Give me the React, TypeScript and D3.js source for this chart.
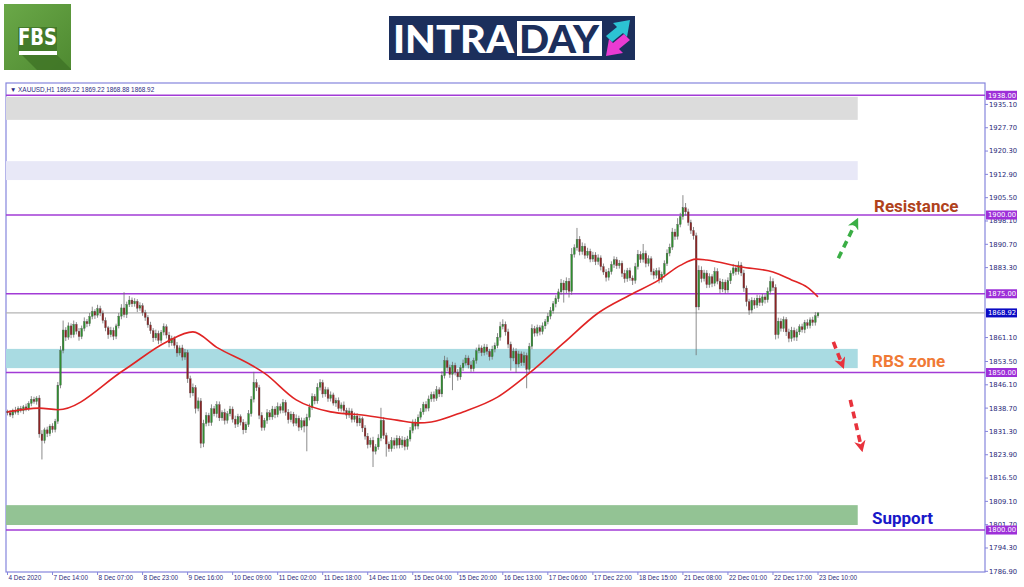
import React from "react";
import * as d3 from "d3";

// hourly XAUUSD bars (open = previous close)
const firstOpen = 1837.6;
const closes = [
  1837.2, 1836.5, 1838.0, 1837.4, 1838.6, 1837.9, 1839.1, 1838.5, 1840.2, 1841.5,
  1840.8, 1841.9, 1830.5, 1828.4, 1831.8, 1830.6, 1833.0, 1831.9, 1834.5, 1846.0,
  1857.0, 1863.5, 1861.2, 1864.8, 1862.0, 1865.3, 1863.1, 1861.4, 1864.0, 1866.2,
  1865.5, 1867.8, 1869.4, 1868.2, 1870.3, 1868.9, 1866.5, 1864.2, 1862.0, 1863.4,
  1861.5, 1864.8, 1867.9, 1870.5, 1868.4, 1871.6, 1873.0, 1871.8, 1872.6, 1870.4,
  1871.2, 1869.0, 1867.5, 1865.1, 1863.3, 1861.0, 1862.4, 1860.2, 1862.8, 1864.5,
  1861.9, 1859.4, 1860.8, 1858.6, 1856.2, 1857.8, 1854.9, 1856.3, 1848.0, 1843.5,
  1845.2, 1838.6, 1841.0, 1827.5, 1833.8, 1836.4, 1834.1, 1838.5, 1836.9, 1839.8,
  1835.6, 1837.3, 1834.8, 1836.9, 1838.4, 1835.2, 1833.6, 1836.0, 1834.2, 1831.8,
  1833.5, 1836.9, 1841.5, 1846.8, 1845.2, 1836.4, 1832.5, 1834.8, 1837.2, 1835.9,
  1838.4, 1836.6, 1839.2, 1838.0, 1840.5, 1837.4, 1835.0, 1836.8, 1833.9, 1835.5,
  1832.6, 1834.7, 1833.0, 1835.8, 1838.9, 1842.4, 1841.0, 1845.3, 1846.8, 1843.2,
  1844.5, 1841.8, 1842.9, 1840.3, 1841.1, 1838.6, 1839.7, 1837.9, 1836.5, 1837.8,
  1835.1, 1836.2, 1834.0, 1835.3, 1832.4, 1829.8, 1827.1, 1828.5, 1825.0, 1826.4,
  1829.2, 1834.8, 1830.0, 1827.3, 1825.8, 1828.4, 1826.9, 1829.1, 1827.0, 1828.6,
  1826.5, 1828.9, 1831.6, 1834.3, 1833.0, 1835.8, 1837.5, 1839.9, 1838.7, 1841.6,
  1843.0, 1841.8, 1844.5, 1843.2, 1849.0, 1853.8, 1851.6, 1849.4, 1852.3, 1850.1,
  1848.6, 1851.5, 1853.0, 1854.6, 1852.4, 1851.2, 1853.8, 1856.9, 1857.8, 1856.3,
  1858.1, 1856.7, 1855.0, 1857.4, 1858.5, 1861.2, 1864.6, 1865.3, 1862.9, 1859.0,
  1854.6, 1856.8, 1852.7, 1855.9, 1853.1, 1855.4, 1851.0, 1858.3, 1863.9, 1862.5,
  1864.2, 1863.0, 1864.8, 1866.1, 1867.9, 1869.6, 1871.8, 1873.4, 1875.6, 1878.4,
  1876.2, 1879.0, 1875.8, 1887.5, 1889.6, 1892.3, 1888.4, 1890.1, 1887.2, 1888.5,
  1886.0, 1887.3, 1885.2, 1886.4, 1883.6, 1881.9, 1880.2, 1882.0, 1884.3, 1885.8,
  1883.9, 1884.7, 1881.5, 1879.8, 1882.3, 1880.0, 1879.2, 1883.6, 1887.5, 1885.9,
  1887.8, 1884.6, 1886.1, 1882.0, 1880.9, 1882.3, 1879.5, 1881.2, 1884.6, 1887.9,
  1889.8, 1894.6, 1893.2, 1897.0, 1899.5, 1902.3, 1901.0, 1897.6, 1895.1, 1893.4,
  1870.8, 1882.5, 1879.8, 1881.6, 1877.9, 1880.4, 1878.3, 1882.1, 1879.0, 1876.5,
  1878.7, 1876.2, 1879.1, 1881.5, 1883.2, 1882.0, 1884.1, 1881.6, 1876.8, 1872.5,
  1869.8, 1872.9, 1871.4, 1873.6, 1872.2, 1874.0, 1873.1, 1875.8, 1878.9, 1877.0,
  1862.0, 1866.3, 1864.0, 1866.8, 1862.9, 1860.8, 1863.4, 1861.2, 1862.9, 1864.5,
  1863.6, 1865.8, 1864.9, 1866.7, 1865.9, 1868.0, 1868.92,
];
// wick lengths above / below the body, in dollars
const upperWick = [
  0.6, 0.9, 0.5, 1.1, 0.7, 0.8, 0.6, 1.0, 0.7, 1.0,
  0.8, 0.6, 0.9, 1.2, 0.7, 1.0, 0.6, 0.9, 0.8, 1.0,
  1.4, 3.0, 0.9, 1.1, 0.8, 1.2, 0.7, 1.0, 0.9, 1.3,
  0.8, 1.1, 1.5, 0.7, 1.2, 0.9, 0.8, 1.0, 0.6, 1.1,
  0.9, 0.7, 1.0, 1.2, 5.0, 0.9, 1.3, 0.8, 1.0, 0.7,
  1.1, 0.8, 0.9, 0.7, 1.0, 0.8, 1.2, 0.9, 0.7, 1.1,
  0.8, 1.0, 0.9, 0.7, 1.1, 0.8, 1.0, 1.2, 0.9, 1.0,
  1.3, 0.8, 1.1, 0.9, 1.2, 1.0, 0.8, 1.4, 0.9, 1.1,
  1.0, 0.7, 1.2, 0.9, 1.0, 0.8, 1.1, 0.9, 0.7, 1.0,
  0.9, 1.2, 1.0, 3.4, 1.1, 0.9, 1.0, 0.8, 1.2, 0.9,
  1.0, 0.8, 1.3, 0.9, 1.1, 0.8, 1.0, 0.9, 0.7, 1.2,
  0.8, 1.0, 0.9, 1.1, 1.2, 1.0, 0.8, 1.3, 1.1, 0.9,
  1.0, 0.8, 1.1, 0.7, 0.9, 1.0, 0.8, 1.1, 0.9, 1.0,
  0.8, 1.1, 0.9, 1.0, 0.7, 0.9, 1.0, 0.8, 1.1, 0.9,
  1.2, 4.0, 1.0, 0.9, 0.8, 1.1, 0.9, 1.0, 0.8, 1.2,
  0.9, 1.0, 1.1, 0.8, 1.0, 0.9, 1.2, 0.8, 1.0, 1.1,
  0.9, 1.0, 1.2, 0.8, 1.4, 1.5, 1.0, 0.9, 1.1, 0.8,
  1.0, 0.9, 1.1, 1.0, 0.8, 1.2, 0.9, 1.0, 1.1, 0.8,
  1.0, 0.9, 0.8, 1.1, 1.0, 1.3, 1.5, 1.6, 0.9, 1.0,
  0.8, 1.1, 0.9, 1.0, 0.8, 1.2, 0.9, 1.1, 1.4, 0.9,
  1.0, 0.8, 1.1, 0.9, 1.0, 1.2, 0.9, 1.1, 1.0, 1.3,
  0.9, 1.2, 1.0, 2.0, 1.1, 3.6, 1.0, 1.2, 0.9, 1.1,
  0.8, 1.0, 0.9, 1.1, 0.8, 1.0, 0.9, 1.2, 1.0, 1.1,
  0.9, 1.0, 0.8, 1.1, 0.9, 1.0, 0.8, 1.2, 1.4, 1.0,
  3.0, 0.9, 1.1, 0.8, 1.0, 0.9, 1.1, 0.8, 1.0, 1.2,
  1.1, 1.3, 1.0, 2.0, 1.2, 4.0, 1.5, 1.0, 0.9, 1.1,
  1.0, 1.5, 1.2, 1.0, 0.9, 1.1, 0.8, 1.3, 1.0, 0.9,
  1.0, 0.8, 1.1, 0.9, 1.2, 1.0, 1.2, 0.9, 1.0, 0.8,
  0.9, 1.0, 0.8, 1.1, 0.9, 1.0, 0.8, 1.2, 1.6, 1.0,
  1.0, 1.1, 0.9, 1.0, 0.8, 1.0, 1.1, 0.9, 1.0, 0.8,
  1.0, 0.9, 1.1, 0.8, 1.0, 1.2, 0.3,
];
const lowerWick = [
  0.8, 0.6, 1.0, 0.7, 0.9, 0.6, 1.1, 0.8, 0.7, 0.9,
  0.7, 1.0, 1.2, 6.0, 0.9, 1.1, 0.8, 1.0, 0.9, 0.8,
  1.0, 0.9, 1.2, 0.8, 1.1, 0.9, 1.0, 1.3, 0.8, 0.9,
  1.1, 0.8, 0.9, 1.2, 0.8, 1.0, 0.9, 1.1, 1.3, 0.8,
  1.2, 0.9, 0.8, 1.0, 0.9, 1.1, 0.8, 1.0, 0.9, 1.2,
  0.8, 1.0, 1.1, 0.9, 1.0, 1.3, 0.8, 1.2, 0.9, 1.0,
  1.1, 1.4, 0.9, 1.0, 1.2, 0.8, 1.1, 0.9, 1.3, 1.5,
  1.0, 1.6, 0.9, 1.5, 1.2, 0.9, 1.1, 1.0, 0.8, 1.2,
  1.0, 0.9, 1.3, 1.0, 0.8, 1.1, 1.2, 0.9, 1.0, 1.4,
  1.0, 0.8, 0.9, 1.0, 1.1, 1.2, 1.0, 0.9, 1.1, 1.0,
  0.9, 1.1, 0.8, 1.0, 0.9, 1.1, 1.2, 0.8, 1.0, 0.9,
  1.2, 0.9, 2.0, 8.0, 1.0, 0.8, 1.1, 0.9, 1.0, 1.2,
  0.9, 1.1, 1.0, 0.8, 1.2, 0.9, 1.0, 1.1, 1.2, 0.9,
  1.0, 0.9, 1.1, 1.0, 1.3, 1.1, 1.2, 0.9, 5.0, 1.0,
  0.9, 1.0, 1.1, 4.0, 1.0, 0.9, 1.2, 1.0, 1.1, 0.9,
  1.2, 1.0, 0.8, 0.9, 1.1, 1.0, 0.8, 0.9, 1.1, 1.0,
  0.9, 1.1, 0.8, 1.0, 1.0, 0.9, 1.2, 1.1, 5.0, 1.0,
  1.2, 0.9, 1.0, 0.8, 1.1, 1.0, 0.9, 1.0, 0.8, 1.1,
  0.9, 1.0, 1.2, 0.9, 1.0, 0.8, 1.1, 0.9, 1.2, 1.3,
  4.0, 1.0, 2.8, 1.1, 1.0, 0.9, 6.0, 1.0, 0.9, 1.1,
  1.0, 1.2, 0.9, 1.0, 0.8, 1.0, 0.9, 1.1, 1.0, 0.9,
  4.0, 1.0, 2.0, 1.1, 1.0, 0.9, 1.2, 1.0, 1.1, 0.9,
  1.0, 0.9, 1.1, 1.0, 1.2, 0.9, 1.3, 1.0, 0.9, 1.1,
  1.0, 0.9, 1.2, 1.3, 1.0, 0.9, 1.4, 1.0, 0.9, 1.1,
  1.0, 1.2, 0.9, 1.1, 1.3, 1.0, 1.2, 0.9, 1.0, 0.8,
  1.0, 0.9, 1.1, 1.0, 0.9, 1.0, 1.2, 1.0, 1.1, 1.2,
  15.3, 1.0, 1.2, 0.9, 1.1, 1.0, 1.2, 0.9, 1.0, 1.3,
  1.0, 1.2, 0.9, 1.0, 0.8, 1.1, 0.9, 1.0, 1.2, 1.5,
  1.5, 1.0, 1.2, 0.9, 1.1, 1.0, 1.2, 0.9, 1.0, 1.1,
  1.5, 1.2, 1.0, 1.1, 1.3, 1.2, 1.0, 1.1, 1.2, 1.0,
  0.9, 1.1, 1.0, 0.9, 1.1, 1.0, 0.6,
];

// moving average (red line), sampled at bar indexes
const maBars = [0, 12, 19, 44, 60, 70, 79, 92, 97, 109, 122, 134, 147, 155, 160, 172, 185, 197, 210, 223, 235, 246, 254, 260, 264, 277, 289, 296, 302, 306];
const maValues = [1837.5, 1838.7, 1838.2, 1850.8, 1859.7, 1862.9, 1858.0, 1852.4, 1849.8, 1841.3, 1837.5, 1836.5, 1834.9, 1834.0, 1834.3, 1837.5, 1842.2, 1849.8, 1859.4, 1868.9, 1874.6, 1879.4, 1884.0, 1886.0, 1885.7, 1883.5, 1881.9, 1879.4, 1877.0, 1874.0];

const dateLabels = ["4 Dec 2020", "7 Dec 14:00", "8 Dec 07:00", "8 Dec 23:00", "9 Dec 16:00", "10 Dec 09:00", "11 Dec 02:00", "11 Dec 18:00", "14 Dec 11:00", "15 Dec 04:00", "15 Dec 20:00", "16 Dec 13:00", "17 Dec 06:00", "17 Dec 22:00", "18 Dec 15:00", "21 Dec 08:00", "22 Dec 01:00", "22 Dec 17:00", "23 Dec 10:00"];
const barsPerLabel = 17;

const priceTicks = [1935.1, 1927.7, 1920.3, 1912.9, 1905.5, 1898.1, 1890.7, 1883.3, 1861.1, 1853.5, 1846.1, 1838.7, 1831.3, 1823.9, 1816.5, 1809.1, 1801.7, 1794.3, 1786.9];
const levelLines = [1938, 1900, 1875, 1850, 1800];
const lastPrice = 1868.92;

// shaded zones: [low, high]
const zoneLows = [1930.2, 1911.1, 1851.4, 1801.6];
const zoneHighs = [1937.5, 1917.1, 1857.5, 1807.9];
const zoneColors = ["#dcdcdc", "#e8e8f7", "#a9dbe2", "#93c394"];
const zoneEndBar = 321;

const W = 1024;
const H = 587;
const plotLeft = 6;
const plotTop = 83;
const plotRight = 985;
const plotBottom = 572;

const x = d3.scaleLinear().domain([0, 306]).range([7.5, 818]);
const y = d3.scaleLinear().domain([1786.9, 1938]).range([571.3, 95.3]);

const Arrow = ({ x1, y1, x2, y2, color, id }: any) => (
  <line x1={x1} y1={y1} x2={x2} y2={y2} stroke={color} strokeWidth={3.6}
    strokeDasharray="7 5" markerEnd={`url(#${id})`} />
);

const App = () => {
  const opens = closes.map((c, i) => (i === 0 ? firstOpen : closes[i - 1]));
  const maLine = d3
    .line<number>()
    .x((d, i) => x(maBars[i]))
    .y((d) => y(d))
    .curve(d3.curveMonotoneX);

  const axisFont = "Tahoma, 'DejaVu Sans', sans-serif";
  const dateFont = "'Liberation Sans', Arial, sans-serif";
  const tickColor = "#2b2b7a";

  return (
    <div style={{ position: "fixed", left: 0, top: 0 }}>
      <svg width={W} height={H} style={{ display: "block", background: "#fff" }}>
        <defs>
          <marker id="headG" viewBox="0 0 10 10" refX="5" refY="5" markerWidth="3.2" markerHeight="3.2" orient="auto">
            <path d="M0,0 L10,5 L0,10 L3,5 z" fill="#3aae45" />
          </marker>
          <marker id="headR" viewBox="0 0 10 10" refX="5" refY="5" markerWidth="3.2" markerHeight="3.2" orient="auto">
            <path d="M0,0 L10,5 L0,10 L3,5 z" fill="#e8323c" />
          </marker>
          <linearGradient id="fbsGrad" x1="0" y1="0" x2="1" y2="1">
            <stop offset="0" stopColor="#6aa848" />
            <stop offset="1" stopColor="#4f8a31" />
          </linearGradient>
        </defs>

        {/* FBS logo */}
        <rect x={4} y={4} width={67} height={66} fill="url(#fbsGrad)" />
        <polygon points="18,27 57,27 57,55 71,69 71,70 37,70 18,51" fill="#3f7326" opacity={0.8} />
        <text x={18} y={45} fill="#fff" fontFamily="'DejaVu Sans', sans-serif" fontWeight={700}
          fontSize={23} textLength={39} lengthAdjust="spacingAndGlyphs">FBS</text>
        <rect x={19} y={51} width={38} height={4} fill="#fff" />

        {/* INTRADAY logo */}
        <rect x={389} y={16} width={246} height={44} fill="#1c2f5c" />
        <text x={393} y={53} fill="#fff" fontFamily="Lato, 'Open Sans', sans-serif" fontWeight={900}
          fontSize={37} textLength={121} lengthAdjust="spacingAndGlyphs">INTRA</text>
        <rect x={517} y={21} width={85} height={35} fill="#fff" />
        <text x={519} y={53} fill="#1c2f5c" fontFamily="Lato, 'Open Sans', sans-serif" fontWeight={900}
          fontSize={37} textLength={80} lengthAdjust="spacingAndGlyphs">DAY</text>
        <polygon points="606,36 617,27 613,23 630,20 627,37 623,33 612,42" fill="#2cc3d3" />
        <polygon points="630,40 619,49 623,53 606,56 609,39 613,43 624,34" fill="#ea3bd2" />

        {/* chart frame */}
        <rect x={plotLeft} y={plotTop} width={plotRight - plotLeft} height={plotBottom - plotTop}
          fill="#fff" stroke="#8585dc" strokeWidth={1.2} />
        <text x={10} y={91.5} fontSize={6.4} fill="#2a2a80" fontFamily={dateFont}>
          ▼ XAUUSD,H1  1869.22 1869.22 1868.88 1868.92
        </text>

        {/* zones */}
        {zoneLows.map((lo, i) => (
          <rect key={"z" + i} x={x(0) - 1.5} y={y(zoneHighs[i])} width={x(zoneEndBar) - x(0) + 1.5}
            height={y(lo) - y(zoneHighs[i])} fill={zoneColors[i]} />
        ))}

        {/* last price line */}
        <line x1={plotLeft} x2={plotRight} y1={y(lastPrice)} y2={y(lastPrice)} stroke="#b4b4b4" strokeWidth={1.2} />

        {/* level lines */}
        {levelLines.map((p) => (
          <line key={"l" + p} x1={plotLeft} x2={plotRight} y1={y(p)} y2={y(p)} stroke="#a23bd6" strokeWidth={1.6} />
        ))}

        {/* candles */}
        {closes.map((c, i) => {
          const o = opens[i];
          const top = Math.max(o, c);
          const bot = Math.min(o, c);
          const cx = x(i);
          const bull = c >= o;
          const bh = Math.max(y(bot) - y(top), 0.8);
          return (
            <g key={"c" + i}>
              <line x1={cx} x2={cx} y1={y(top + upperWick[i])} y2={y(bot - lowerWick[i])} stroke="#6e6e6e" strokeWidth={0.8} />
              <rect x={cx - 0.9} y={y(top)} width={1.8} height={bh}
                fill={bull ? "#2f8f2f" : "#8e2323"} stroke="#555" strokeWidth={0.3} />
            </g>
          );
        })}

        {/* moving average */}
        <path d={maLine(maValues) || ""} fill="none" stroke="#e02424" strokeWidth={1.6} />

        {/* annotations */}
        <Arrow x1={x(313.7)} y1={y(1886.3)} x2={x(320.2)} y2={y(1897.5)} color="#3aae45" id="headG" />
        <Arrow x1={x(311.8)} y1={y(1859.7)} x2={x(315.0)} y2={y(1852.8)} color="#e8323c" id="headR" />
        <Arrow x1={x(318.2)} y1={y(1841.3)} x2={x(322.3)} y2={y(1826.5)} color="#e8323c" id="headR" />

        <text x={874} y={y(1903) + 6} fontFamily="Roboto, 'Open Sans', sans-serif" fontWeight={700}
          fontSize={17} fill="#b0421c">Resistance</text>
        <text x={872} y={y(1853.8) + 6} fontFamily="Roboto, 'Open Sans', sans-serif" fontWeight={700}
          fontSize={17} fill="#f07a35">RBS zone</text>
        <text x={872} y={y(1803.7) + 6} fontFamily="Roboto, 'Open Sans', sans-serif" fontWeight={700}
          fontSize={17} fill="#1818c8">Support</text>

        {/* price axis */}
        {priceTicks.map((p) => (
          <g key={"t" + p}>
            <line x1={plotRight} x2={plotRight + 3} y1={y(p)} y2={y(p)} stroke="#8585dc" />
            <text x={989} y={y(p) + 2.4} fontSize={6.8} fill={tickColor} fontFamily={axisFont}>
              {p.toFixed(2)}
            </text>
          </g>
        ))}
        {levelLines.map((p) => (
          <g key={"pl" + p}>
            <rect x={plotRight + 1} y={y(p) - 4.5} width={31} height={9} fill="#9d2fd8" />
            <text x={988} y={y(p) + 2.4} fontSize={6.8} fill="#fff" fontFamily={axisFont}>{p.toFixed(2)}</text>
          </g>
        ))}
        <rect x={plotRight + 1} y={y(lastPrice) - 4.5} width={31} height={9} fill="#0b0bc4" />
        <text x={988} y={y(lastPrice) + 2.4} fontSize={6.8} fill="#fff" fontFamily={axisFont}>{lastPrice.toFixed(2)}</text>

        {/* time axis */}
        {dateLabels.map((d, k) => (
          <g key={"d" + k}>
            <line x1={x(k * barsPerLabel)} x2={x(k * barsPerLabel)} y1={plotBottom} y2={plotBottom + 3} stroke="#8585dc" />
            <text x={x(k * barsPerLabel) + 1} y={579.5} fontSize={6.4} fill={tickColor} fontFamily={dateFont}>{d}</text>
          </g>
        ))}
      </svg>
    </div>
  );
};

export default App;
